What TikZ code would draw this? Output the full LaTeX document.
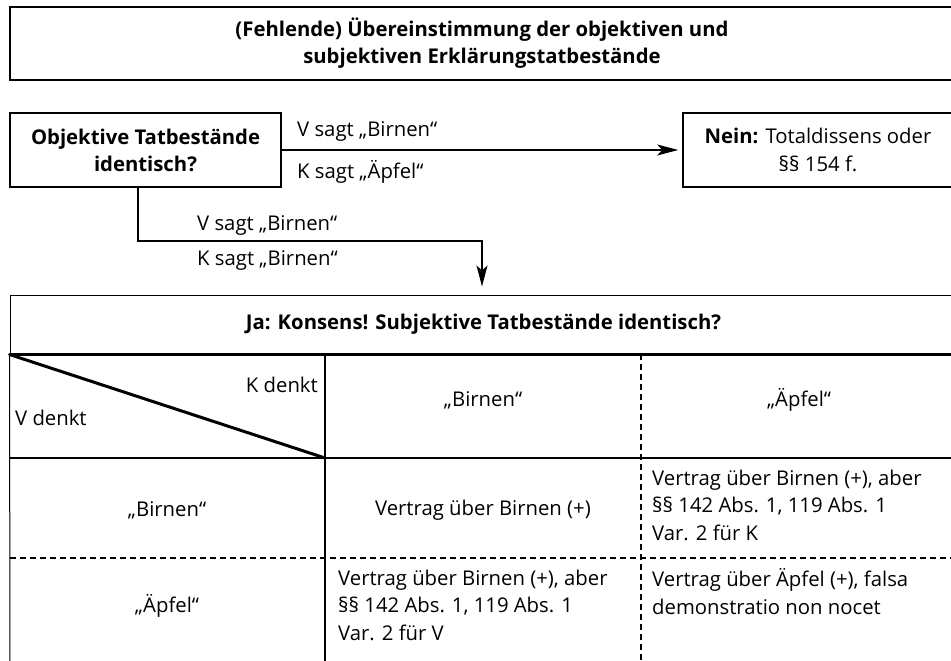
\documentclass[tikz,border=0pt]{standalone}
\usepackage{fontspec}
\setmainfont{Open Sans}
\usetikzlibrary{arrows.meta}

\begin{document}
\begin{tikzpicture}[x=1pt, y=-1pt,
	every node/.style={font=\fontsize{20.3}{27.5}\selectfont},
	fett/.style={font=\fontsize{20.3}{27}\selectfont\bfseries},
	box/.style={draw, line width=1.6pt, align=center, inner sep=0pt},
	txt/.style={inner sep=0pt, align=left},
	pfeil/.style={-{Stealth[length=21pt, width=11pt, inset=5pt]}, line width=1.5pt},
	strich/.style={dash pattern=on 6pt off 4pt, line width=1.3pt}]
	\useasboundingbox (0,0) rectangle (951,661);
	\clip (0,0) rectangle (951,661);

	\node[box, fett, minimum width=944pt, minimum height=73pt] (titel) at (482,43.5) {(Fehlende) Übereinstimmung der objektiven und\\subjektiven Erklärungstatbestände};
	\node[box, fett, minimum width=271pt, minimum height=74pt] (objektiv) at (145.5,150) {Objektive Tatbestände\\identisch?};
	\node[box, minimum width=270pt, minimum height=74pt] (nein) at (818,150) {\textbf{Nein:} Totaldissens oder\\§§ 154 f.};

	\draw[pfeil, shorten >=4pt] (objektiv.east) -- (nein.west);
	\node[txt, anchor=west] (vsagt) at (297,131) {V sagt „Birnen“};
	\node[txt, anchor=west] (ksagt) at (297,172) {K sagt „Äpfel“};

	% Konsens-Tabelle
	\node[box, fett, line width=1pt, minimum width=947pt, minimum height=59pt] (ja) at (483.5,324.5) {Ja: Konsens! Subjektive Tatbestände identisch?};
	\coordinate (knick) at (482,241);
	\draw[pfeil, shorten >=8pt] ([xshift=-7.5pt]objektiv.south) |- (knick) -- (ja.north -| knick);
	\node[txt, anchor=west] (vsagt2) at (197,225) {V sagt „Birnen“};
	\node[txt, anchor=west] (ksagt2) at (197,260) {K sagt „Birnen“};

	\draw[line width=2.4pt] (ja.south west) -- (ja.south east);
	\draw[line width=1pt] (ja.south west) -- (10,670);
	\draw[line width=3pt, line cap=round] (ja.south west) -- (325,458);
	\draw[line width=1.3pt] (325,354) -- (325,670);
	\draw[strich] (641,354) -- (641,670);
	\draw[line width=1.8pt] (10,458) -- (960,458);
	\draw[strich] (10,558) -- (960,558);

	\node[txt, anchor=east] (kdenkt) at (318,385) {K denkt};
	\node[txt, anchor=west] (vdenkt) at (15,418) {V denkt};
	\node (kbirnen) at (483,400) {„Birnen“};
	\node (kaepfel) at (799,400) {„Äpfel“};
	\node (vbirnen) at (167,510) {„Birnen“};
	\node (vaepfel) at (167,606) {„Äpfel“};
	\node (bb) at (483,510) {Vertrag über Birnen (+)};
	\node[txt, anchor=west] (ba) at (652,505) {Vertrag über Birnen (+), aber\\§§ 142 Abs. 1, 119 Abs. 1\\Var. 2 für K};
	\node[txt, anchor=west] (ab) at (338,605) {Vertrag über Birnen (+), aber\\§§ 142 Abs. 1, 119 Abs. 1\\Var. 2 für V};
	\node[txt, anchor=west] (aa) at (652,591.5) {Vertrag über Äpfel (+), falsa\\demonstratio non nocet};
\end{tikzpicture}
\end{document}
